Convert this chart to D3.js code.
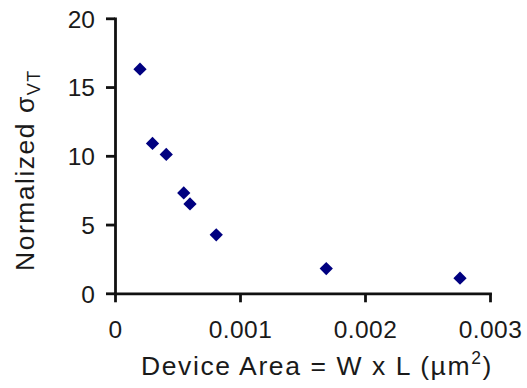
<!DOCTYPE html>
<html>
<head>
<meta charset="utf-8">
<script src="https://cdn.jsdelivr.net/npm/d3@7"></script>
<style>
  html, body { margin: 0; padding: 0; background: #fff; }
  svg { display: block; }
  text { font-family: "Liberation Sans", Arial, sans-serif; fill: #1a1a1a; }
</style>
</head>
<body>
<svg id="chart" width="527" height="388"></svg>
<script>
// Data
const deviceArea = [0.0002, 0.0003, 0.00041, 0.00055, 0.0006, 0.00081, 0.00169, 0.00276];
const normSigma  = [16.3, 10.9, 10.1, 7.3, 6.5, 4.25, 1.8, 1.1];
const xTicks = [0, 0.001, 0.002, 0.003];
const xTickLabels = ["0", "0.001", "0.002", "0.003"];
const yTicks = [0, 5, 10, 15, 20];
const yTickLabels = ["0", "5", "10", "15", "20"];

(function () {
const svg = d3.select("#chart");
const mLeft = 115, mRight = 490, mTop = 18.3, mBottom = 293.3;

const x = d3.scaleLinear().domain([0, 0.003]).range([mLeft, mRight]);
const y = d3.scaleLinear().domain([0, 20]).range([mBottom, mTop]);

const xAxis = d3.axisBottom(x)
  .tickValues(xTicks)
  .tickFormat((d, i) => xTickLabels[i])
  .tickSizeInner(9).tickSizeOuter(0).tickPadding(18);
const yAxis = d3.axisLeft(y)
  .tickValues(yTicks)
  .tickFormat((d, i) => yTickLabels[i])
  .tickSizeInner(9).tickSizeOuter(0).tickPadding(11);

const gx = svg.append("g").attr("transform", `translate(0,${mBottom})`).call(xAxis);
const gy = svg.append("g").attr("transform", `translate(${mLeft},0)`).call(yAxis);

[gx, gy].forEach(g => {
  g.select(".domain").attr("stroke", "#111").attr("stroke-width", 2.8).attr("stroke-linecap", "square");
  g.selectAll(".tick line").attr("stroke", "#111").attr("stroke-width", 2.8);
  g.selectAll(".tick text").style("font-size", "24.5px").style("fill", "#1a1a1a")
    .style("font-family", '"Liberation Sans", Arial, sans-serif');
});
gx.selectAll(".tick text").style("letter-spacing", "0.4px");
gy.selectAll(".tick text").attr("dy", "0.36em");

// Points
const diamond = d3.symbol().type(d3.symbolSquare).size(88);
svg.append("g").selectAll("path")
  .data(deviceArea.map((a, i) => [a, normSigma[i]]))
  .join("path")
  .attr("d", diamond)
  .attr("transform", d => `translate(${x(d[0])},${y(d[1])}) rotate(45)`)
  .attr("fill", "#000080");

// X title
const xt = svg.append("text")
  .attr("x", 141)
  .attr("y", 375)
  .attr("text-anchor", "start")
  .style("font-size", "26.5px")
  .style("letter-spacing", "1.6px");
xt.append("tspan").text("Device Area = W x L (µm");
xt.append("tspan").attr("dy", -11).style("font-size", "17.5px").text("2");
xt.append("tspan").attr("dy", 11).text(")");

// Y title
const yt = svg.append("text")
  .attr("transform", `translate(33.5,271) rotate(-90)`)
  .attr("text-anchor", "start")
  .style("font-size", "26.5px")
  .style("letter-spacing", "1.5px");
yt.append("tspan").text("Normalized σ");
yt.append("tspan").attr("dy", 6).style("font-size", "18px").text("VT");
})();
</script>
</body>
</html>
